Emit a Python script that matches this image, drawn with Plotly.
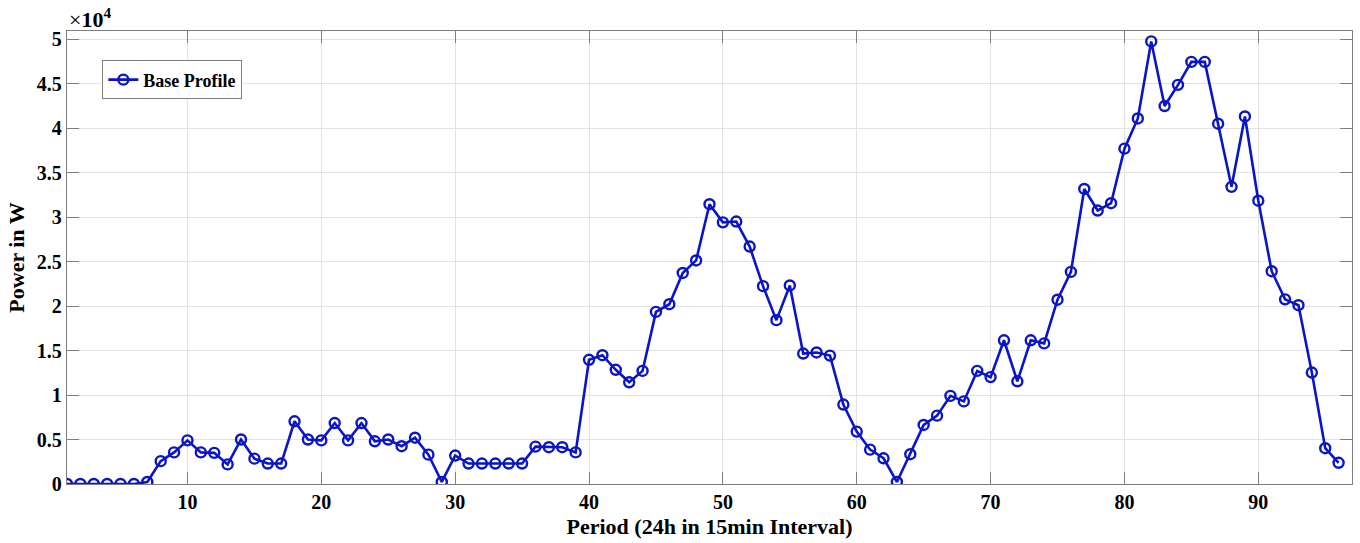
import plotly.graph_objects as go

period = list(range(1, 97))
power_w = [
    0, 0, 0, 0, 0, 0, 230, 2570, 3550, 4900,
    3550, 3500, 2200, 5000, 2850, 2300, 2300, 7050, 5000, 4900,
    6850, 4900, 6850, 4800, 5000, 4250, 5200, 3300, 230, 3200,
    2300, 2300, 2300, 2300, 2300, 4200, 4130, 4130, 3550, 13960,
    14470, 12830, 11430, 12710, 19340, 20200, 23710, 25120, 31440, 29400,
    29490, 26680, 22230, 18410, 22310, 14660, 14780, 14430, 8930, 5890,
    3860, 2890, 230, 3350, 6630, 7680, 9900, 9280, 12710, 12010,
    16150, 11540, 16150, 15800, 20710, 23830, 33150, 30730, 31550, 37680,
    41070, 49730, 42470, 44850, 47430, 47430, 40480, 33390, 41300, 31830,
    23910, 20750, 20090, 12520, 4020, 2380,
]

y_tick_vals = [0, 5000, 10000, 15000, 20000, 25000, 30000, 35000, 40000, 45000, 50000]
y_tick_text = ["0", "0.5", "1", "1.5", "2", "2.5", "3", "3.5", "4", "4.5", "5"]
x_tick_vals = [10, 20, 30, 40, 50, 60, 70, 80, 90]

FONT = "Liberation Serif"
BLUE = "#0a14c8"

fig = go.Figure()
fig.add_trace(go.Scatter(
    x=period, y=power_w, mode="lines+markers", name="<b>Base Profile</b>",
    line=dict(color=BLUE, width=2.6),
    marker=dict(symbol="circle-open", size=10, color=BLUE, line=dict(width=2.4, color=BLUE)),
))

axis_common = dict(
    showline=True, linecolor="#7f7f7f", linewidth=1.3, mirror="allticks",
    ticks="inside", ticklen=12, tickwidth=1.3, tickcolor="#7f7f7f",
    showgrid=True, gridcolor="#e3e3e3", gridwidth=1, zeroline=False,
    tickfont=dict(family=FONT, size=20, color="black", weight="bold"),
)

fig.update_layout(
    width=1360, height=543,
    margin=dict(l=67, r=8, t=31, b=59),
    paper_bgcolor="white", plot_bgcolor="white",
    font=dict(family=FONT, color="black"),
    showlegend=True,
    legend=dict(
        x=0.0275, y=0.935, xanchor="left", yanchor="top",
        bgcolor="white", bordercolor="#7f7f7f", borderwidth=1,
        font=dict(family=FONT, size=18, color="black"),
        itemwidth=30, tracegroupgap=0,
    ),
    xaxis=dict(
        range=[1, 97], tickvals=x_tick_vals,
        title=dict(text="<b>Period (24h in 15min Interval)</b>", font=dict(family=FONT, size=22), standoff=6),
        **axis_common,
    ),
    yaxis=dict(
        range=[0, 50900], tickvals=y_tick_vals, ticktext=y_tick_text,
        title=dict(text="<b>Power in W</b>", font=dict(family=FONT, size=22), standoff=6),
        **axis_common,
    ),
)

fig.add_annotation(
    xref="paper", yref="paper", x=0, y=1.0, xanchor="left", yanchor="bottom",
    text="×<b>10<sup>4</sup></b>", showarrow=False, xshift=0, yshift=-3,
    font=dict(family=FONT, size=22, color="black"),
)

fig.write_html("out.html")
